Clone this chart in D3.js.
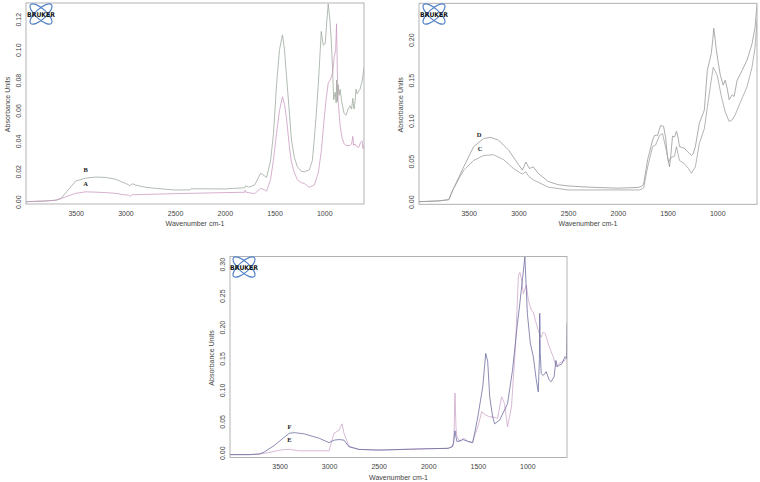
<!DOCTYPE html>
<html><head><meta charset="utf-8">
<script src="https://cdn.jsdelivr.net/npm/d3@7"></script>
<style>body{margin:0;background:#fff}svg{display:block}</style>
</head><body><svg id="c" width="760" height="482"></svg>
<script>
// ---------- DATA ----------
const xTicks = [3500, 3000, 2500, 2000, 1500, 1000];
const yTicks1 = [0.00, 0.02, 0.04, 0.06, 0.08, 0.10, 0.12];
const yTicks2 = [0.00, 0.05, 0.10, 0.15, 0.20];
const yTicks3 = [0.00, 0.05, 0.10, 0.15, 0.20, 0.25, 0.30];

const wnB = [4000,3800,3700,3650,3590,3500,3400,3300,3200,3100,3000,2970,2955,2930,2900,2800,2700,2500,2350,2340,2000,1800,1790,1760,1700,1640,1600,1580,1540,1510,1480,1450,1420,1400,1380,1350,1330,1300,1270,1230,1200,1150,1120,1100,1080,1060,1040,1030,1010,990,975,960,945,930,915,905,890,880,875,868,860,850,840,825,800,780,760,740,725,712,705,700,690,680,670,660,640,620,600];
const absB = [0.000,0.0005,0.001,0.002,0.0066,0.0136,0.0155,0.0162,0.016,0.0148,0.0121,0.0112,0.0105,0.0118,0.011,0.0095,0.0088,0.0077,0.0078,0.0085,0.0084,0.0092,0.0105,0.0095,0.011,0.0187,0.017,0.016,0.027,0.045,0.077,0.100,0.1097,0.100,0.083,0.058,0.0406,0.029,0.023,0.020,0.0197,0.021,0.027,0.041,0.058,0.077,0.100,0.112,0.103,0.104,0.118,0.130,0.121,0.107,0.085,0.067,0.072,0.065,0.080,0.066,0.077,0.070,0.074,0.066,0.058,0.057,0.061,0.063,0.061,0.068,0.063,0.061,0.066,0.074,0.071,0.072,0.074,0.079,0.088];

const wnA = [4000,3800,3700,3650,3600,3500,3400,3300,3200,3100,3000,2970,2955,2930,2800,2500,2000,1800,1795,1785,1700,1640,1600,1580,1540,1510,1480,1450,1420,1400,1380,1350,1330,1300,1270,1230,1200,1150,1100,1060,1030,1000,980,960,940,930,915,900,885,876,868,860,850,840,820,800,780,760,740,725,712,705,690,670,650,635,620,610,600];
const absA = [0.000,0.0005,0.001,0.002,0.0033,0.0055,0.0065,0.0063,0.006,0.0055,0.0044,0.0045,0.0035,0.0046,0.0048,0.0053,0.006,0.0062,0.0075,0.0062,0.0053,0.0088,0.0078,0.007,0.0145,0.028,0.045,0.060,0.069,0.064,0.055,0.036,0.026,0.019,0.0145,0.0125,0.012,0.0095,0.011,0.019,0.033,0.055,0.068,0.078,0.080,0.082,0.085,0.095,0.100,0.117,0.085,0.066,0.058,0.050,0.042,0.038,0.037,0.037,0.037,0.038,0.043,0.037,0.038,0.036,0.036,0.039,0.040,0.035,0.037];

const wnD = [4000,3800,3700,3660,3600,3550,3450,3350,3280,3200,3100,3000,2960,2925,2890,2850,2800,2700,2600,2500,2300,2000,1800,1760,1740,1700,1650,1630,1600,1570,1540,1520,1500,1480,1465,1450,1430,1410,1395,1380,1330,1300,1260,1240,1220,1180,1130,1100,1060,1045,1035,1020,1010,990,970,940,920,900,880,850,830,800,750,700,650,620,600];
const absD = [0.000,0.001,0.0025,0.0144,0.030,0.043,0.068,0.078,0.0795,0.076,0.064,0.046,0.039,0.049,0.041,0.043,0.035,0.025,0.021,0.0195,0.018,0.0167,0.0176,0.019,0.0218,0.052,0.076,0.082,0.082,0.094,0.093,0.080,0.0555,0.043,0.060,0.081,0.080,0.087,0.080,0.068,0.066,0.062,0.057,0.060,0.068,0.097,0.113,0.162,0.183,0.200,0.214,0.200,0.188,0.172,0.157,0.144,0.150,0.140,0.126,0.132,0.130,0.150,0.162,0.175,0.195,0.215,0.243];

const wnC = [4000,3800,3700,3660,3600,3550,3450,3350,3250,3150,3050,2960,2925,2900,2850,2700,2500,2000,1780,1740,1700,1650,1620,1580,1550,1510,1490,1460,1430,1410,1380,1330,1290,1260,1220,1180,1130,1090,1060,1040,1000,960,920,880,850,820,780,700,650,620,600];
const absC = [0.000,0.001,0.0025,0.0144,0.028,0.039,0.051,0.057,0.058,0.052,0.041,0.034,0.037,0.032,0.027,0.018,0.0145,0.0145,0.0145,0.017,0.043,0.068,0.070,0.082,0.084,0.062,0.049,0.055,0.056,0.068,0.051,0.047,0.041,0.035,0.043,0.072,0.090,0.125,0.150,0.166,0.156,0.131,0.111,0.099,0.101,0.107,0.119,0.142,0.166,0.190,0.224];

const wnF = [4000,3800,3700,3650,3550,3450,3400,3350,3250,3100,3000,2950,2900,2850,2800,2700,2500,2000,1800,1760,1745,1730,1720,1710,1650,1600,1550,1500,1450,1420,1400,1380,1350,1330,1280,1230,1200,1150,1100,1080,1050,1025,1000,970,940,910,890,878,875,870,860,840,810,780,760,730,712,700,650,620,605,600];
const absF = [-0.003,-0.003,-0.002,0.0016,0.012,0.025,0.031,0.032,0.030,0.023,0.016,0.020,0.021,0.020,0.0095,0.0053,0.0042,0.0064,0.007,0.0095,0.015,0.035,0.025,0.0175,0.021,0.018,0.016,0.057,0.105,0.158,0.145,0.089,0.057,0.046,0.052,0.068,0.078,0.131,0.206,0.232,0.275,0.312,0.222,0.174,0.153,0.116,0.097,0.150,0.222,0.160,0.126,0.123,0.129,0.116,0.113,0.121,0.147,0.137,0.142,0.153,0.150,0.206];

const wnE = [4000,3800,3700,3600,3500,3400,3300,3000,2980,2950,2900,2870,2850,2800,2700,2500,2000,1800,1750,1740,1730,1720,1710,1680,1640,1600,1560,1500,1460,1420,1380,1350,1300,1260,1230,1200,1160,1120,1090,1075,1060,1040,1010,990,960,940,920,880,860,840,820,780,740,710,680,650,620,600];
const absE = [-0.003,-0.003,-0.002,0.0005,0.0042,0.0055,0.003,0.003,0.015,0.031,0.036,0.046,0.031,0.0106,0.0053,0.0042,0.0064,0.007,0.010,0.030,0.095,0.040,0.025,0.0175,0.023,0.018,0.016,0.041,0.065,0.060,0.057,0.057,0.055,0.089,0.078,0.041,0.073,0.169,0.282,0.287,0.277,0.253,0.267,0.243,0.227,0.224,0.211,0.190,0.184,0.192,0.190,0.169,0.153,0.137,0.142,0.145,0.147,0.153];

const labelsP1 = [{t:"B", w:3400, v:0.0195}, {t:"A", w:3400, v:0.0103}];
const labelsP2 = [{t:"D", w:3395, v:0.0805}, {t:"C", w:3385, v:0.063}];
const labelsP3 = [{t:"F", w:3400, v:0.038}, {t:"E", w:3400, v:0.017}];

// ---------- DRAW ----------
const svg = d3.select("#c");
const FONT = "'Liberation Sans', Arial, Helvetica, sans-serif";

function panel(cfg) {
  const g = svg.append("g");
  const x = d3.scaleLinear().domain([4000, 600]).range([cfg.l, cfg.r]);
  const y = d3.scaleLinear().domain(cfg.yDom).range([cfg.b, cfg.t]);

  const xa = g.append("g").attr("transform", `translate(0,${cfg.b})`)
    .call(d3.axisBottom(x).tickValues(xTicks).tickSize(0).tickPadding(7).tickFormat(d3.format("d")));
  xa.select(".domain").remove();
  xa.selectAll("text").attr("font-family", FONT).attr("font-size", 7).attr("fill", "#444");

  const ya = g.append("g").attr("transform", `translate(${cfg.l},0)`)
    .call(d3.axisLeft(y).tickValues(cfg.yTicks).tickSize(0).tickFormat(d3.format(".2f")));
  ya.select(".domain").remove();
  ya.selectAll("text")
    .attr("font-family", FONT).attr("font-size", 7).attr("fill", "#444")
    .attr("text-anchor", "middle").attr("dy", null)
    .attr("x", null)
    .attr("transform", "translate(-5.5,0) rotate(-90)");

  g.append("text").attr("font-family", FONT).attr("font-size", 7).attr("fill", "#444")
    .attr("text-anchor", "middle")
    .attr("transform", `translate(${cfg.l - 16},${(cfg.t + cfg.b) / 2 + 1}) rotate(-90)`)
    .text("Absorbance Units");
  g.append("text").attr("font-family", FONT).attr("font-size", 7).attr("fill", "#444")
    .attr("text-anchor", "middle")
    .attr("x", (cfg.l + cfg.r) / 2).attr("y", cfg.b + 22)
    .text("Wavenumber cm-1");

  const cid = "clip" + cfg.id;
  svg.append("clipPath").attr("id", cid).append("rect")
    .attr("x", cfg.l).attr("y", cfg.t).attr("width", cfg.r - cfg.l).attr("height", cfg.b - cfg.t);

  const line = d3.line().x(d => x(d[0])).y(d => y(d[1]));
  cfg.series.forEach(s => {
    g.append("path").datum(d3.zip(s.w, s.v))
      .attr("clip-path", `url(#${cid})`)
      .attr("fill", "none").attr("stroke", s.c).attr("stroke-width", 0.75)
      .attr("stroke-linejoin", "round").attr("d", line);
  });

  cfg.labels.forEach(lb => {
    g.append("text").attr("x", x(lb.w)).attr("y", y(lb.v))
      .attr("font-family", "'Liberation Serif', 'DejaVu Serif', serif")
      .attr("font-weight", "bold").attr("font-size", 6.5).attr("fill", "#222")
      .attr("text-anchor", "middle").text(lb.t);
  });

  g.append("rect").attr("x", cfg.l).attr("y", cfg.t)
    .attr("width", cfg.r - cfg.l).attr("height", cfg.b - cfg.t)
    .attr("fill", "none").attr("stroke", "#aaa").attr("stroke-width", 0.9);

  const lg = g.append("g").attr("transform", `translate(${cfg.logo[0]},${cfg.logo[1]})`);
  [-42, 42].forEach(a => {
    lg.append("ellipse").attr("rx", 14).attr("ry", 5.2)
      .attr("transform", `rotate(${a})`)
      .attr("fill", "none").attr("stroke", "#5583c8").attr("stroke-width", 1.2);
  });
  lg.append("text").attr("x", 0).attr("y", 2.5).attr("text-anchor", "middle")
    .attr("font-family", "'DejaVu Sans', sans-serif").attr("font-weight", "bold")
    .attr("font-size", 6.6).attr("fill", "#111").attr("textLength", 28)
    .attr("lengthAdjust", "spacingAndGlyphs").text("BRUKER");
}

panel({id:1, l:26, r:364, t:3, b:204, yDom:[-0.0015, 0.1307], yTicks:yTicks1, logo:[41,14],
  series:[{w:wnB, v:absB, c:"#98a698"}, {w:wnA, v:absA, c:"#c995bd"}], labels:labelsP1});
panel({id:2, l:419, r:757, t:3.3, b:204.3, yDom:[-0.0032, 0.245], yTicks:yTicks2, logo:[434,14],
  series:[{w:wnD, v:absD, c:"#929292"}, {w:wnC, v:absC, c:"#9c9c9c"}], labels:labelsP2});
panel({id:3, l:230, r:567, t:256.5, b:457.5, yDom:[-0.0076, 0.3124], yTicks:yTicks3, logo:[244,267],
  series:[{w:wnE, v:absE, c:"#cba3c9"}, {w:wnF, v:absF, c:"#66669a"}], labels:labelsP3});
</script></body></html>
